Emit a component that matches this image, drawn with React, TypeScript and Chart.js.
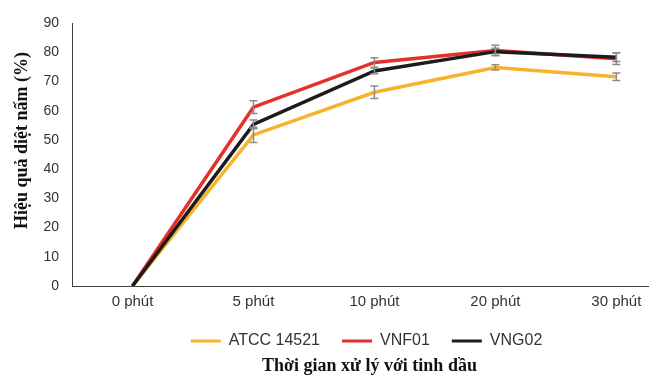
import { useEffect, useRef } from "react";
import { Chart, registerables } from "chart.js";

Chart.register(...registerables);

const categories = ["0 phút", "5 phút", "10 phút", "20 phút", "30 phút"];
const atcc = [0, 51.7, 66.3, 74.8, 71.6];
const atccErr = [0, 2.6, 2.1, 0.9, 1.3];
const vnf01 = [0, 61.2, 76.5, 80.6, 77.8];
const vnf01Err = [0, 2.2, 1.6, 1.8, 2.0];
const vng02 = [0, 55.3, 73.6, 80.2, 78.3];
const vng02Err = [0, 1.5, 1.0, 1.2, 1.5];
const seriesNames = ["ATCC 14521", "VNF01", "VNG02"];
const yTitle = "Hiệu quả diệt nấm (%)";
const xTitle = "Thời gian xử lý với tinh dầu";

const toPoints = (arr: number[]) => arr.map((v, i) => ({ x: i, y: v }));

const errorBarPlugin = {
  id: "errorBars",
  afterDatasetsDraw(chart: any) {
    const ctx = chart.ctx;
    const xs = chart.scales.x;
    const ys = chart.scales.y;
    ctx.save();
    ctx.strokeStyle = "#8c8c8c";
    ctx.lineWidth = 1.5;
    chart.data.datasets.forEach((ds: any) => {
      const errs: number[] = ds.errors;
      if (!errs) return;
      ds.data.forEach((pt: any, i: number) => {
        const e = errs[i];
        if (!e) return;
        const px = xs.getPixelForValue(pt.x);
        const top = ys.getPixelForValue(pt.y + e);
        const bot = ys.getPixelForValue(pt.y - e);
        const cap = 4;
        ctx.beginPath();
        ctx.moveTo(px, top);
        ctx.lineTo(px, bot);
        ctx.moveTo(px - cap, top);
        ctx.lineTo(px + cap, top);
        ctx.moveTo(px - cap, bot);
        ctx.lineTo(px + cap, bot);
        ctx.stroke();
      });
    });
    ctx.restore();
  },
};

// y-axis title, drawn a little above the axis centre as in the reference
const yTitlePlugin = {
  id: "yTitle",
  afterDraw(chart: any) {
    const ctx = chart.ctx;
    const ys = chart.scales.y;
    const area = chart.chartArea;
    ctx.save();
    ctx.translate(ys.left + 14.5, (area.top + area.bottom) / 2 - 14);
    ctx.rotate(-Math.PI / 2);
    ctx.font = "bold 18px 'Liberation Serif'";
    ctx.fillStyle = "#111111";
    ctx.textAlign = "center";
    ctx.textBaseline = "middle";
    ctx.fillText(yTitle, 0, 0);
    ctx.restore();
  },
};

// nudge the bottom legend and title to sit where the reference has them
const shiftPlugin = {
  id: "shiftBlocks",
  afterLayout(chart: any) {
    const lg = chart.legend;
    if (lg) {
      lg.left += 6;
      lg.right += 6;
    }
    const tb = chart.titleBlock;
    if (tb) {
      tb.left += 9;
      tb.right += 9;
    }
  },
};

export default function App() {
  const ref = useRef<HTMLCanvasElement>(null);

  useEffect(() => {
    if (!ref.current) return;
    const chart = new Chart(ref.current, {
      type: "line",
      data: {
        datasets: [
          {
            label: seriesNames[0],
            data: toPoints(atcc),
            errors: atccErr,
            borderColor: "#F6B42C",
            backgroundColor: "#F6B42C",
            borderWidth: 3.5,
            pointRadius: 0,
            order: 2,
          } as any,
          {
            label: seriesNames[1],
            data: toPoints(vnf01),
            errors: vnf01Err,
            borderColor: "#E3302B",
            backgroundColor: "#E3302B",
            borderWidth: 3.5,
            pointRadius: 0,
            order: 1,
          } as any,
          {
            label: seriesNames[2],
            data: toPoints(vng02),
            errors: vng02Err,
            borderColor: "#1C1C1C",
            backgroundColor: "#1C1C1C",
            borderWidth: 3.5,
            pointRadius: 0,
            order: 0,
          } as any,
        ],
      },
      options: {
        animation: false,
        responsive: false,
        maintainAspectRatio: false,
        layout: { padding: { top: 23, left: 8, right: 0, bottom: 0 } },
        scales: {
          x: {
            type: "linear",
            min: -0.5,
            max: 4.27,
            afterBuildTicks: (s: any) => {
              s.ticks = categories.map((_, i) => ({ value: i }));
            },
            afterFit: (s: any) => {
              s.height -= 7;
            },
            ticks: {
              callback: (v: any) => categories[v] ?? "",
              font: { family: "Liberation Sans", size: 15 },
              color: "#333333",
              padding: 7,
              autoSkip: false,
              maxRotation: 0,
            },
            grid: { display: false, drawTicks: false },
            border: { display: true, color: "#404040", width: 1 },
          },
          y: {
            min: 0,
            max: 90,
            afterFit: (s: any) => {
              s.width = 64;
            },
            ticks: {
              stepSize: 10,
              font: { family: "Liberation Sans", size: 14 },
              color: "#333333",
              padding: 13,
            },
            grid: { display: false, drawTicks: false },
            border: { display: true, color: "#404040", width: 1 },
            title: { display: false },
          },
        },
        plugins: {
          legend: {
            position: "bottom",
            fullSize: false,
            labels: {
              boxWidth: 30,
              boxHeight: 3,
              padding: 22,
              color: "#333333",
              font: { family: "Liberation Sans", size: 16 },
              generateLabels: (c: any) =>
                Chart.defaults.plugins.legend.labels
                  .generateLabels(c)
                  .map((l: any) => ({ ...l, lineWidth: 0 }))
                  .sort((a: any, b: any) => a.datasetIndex - b.datasetIndex),
            },
          },
          title: {
            display: true,
            position: "bottom",
            fullSize: false,
            text: xTitle,
            color: "#111111",
            font: { family: "Liberation Serif", size: 18, weight: "bold", lineHeight: 1.0 },
            padding: { top: -2, bottom: 2 },
          },
          tooltip: { enabled: false },
        },
      },
      plugins: [errorBarPlugin, yTitlePlugin, shiftPlugin],
    } as any);
    return () => chart.destroy();
  }, []);

  return (
    <div
      style={{
        position: "fixed",
        left: 0,
        top: 0,
        width: 649,
        height: 377,
        background: "#ffffff",
        overflow: "hidden",
      }}
    >
      <canvas ref={ref} width={649} height={377} style={{ display: "block" }} />
    </div>
  );
}
